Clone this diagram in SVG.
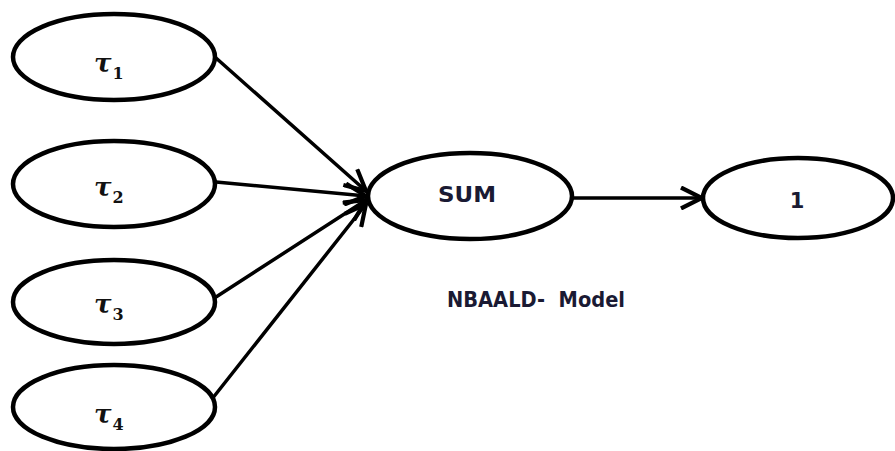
<svg xmlns="http://www.w3.org/2000/svg" width="895" height="451" viewBox="0 0 895 451">
<defs>
<style>
.n{fill:#fff;stroke:#000;stroke-width:4.5}
.c{stroke:#000;stroke-width:3.5;fill:none;stroke-linecap:round}
.tau{font-family:"DejaVu Serif","Liberation Serif",serif;font-style:italic;font-weight:bold;font-size:26px;fill:#111}
.sub{font-style:normal;font-size:16px}
.lbl{font-family:"DejaVu Sans","Liberation Sans",sans-serif;font-weight:bold;font-size:21px;fill:#1a1a33}
</style>
<marker id="ah" viewBox="0 0 14 14" refX="13" refY="7" markerWidth="7" markerHeight="7" orient="auto" markerUnits="strokeWidth">
<path d="M1,1 L13,7 L1,13" fill="none" stroke="#000" stroke-width="2.4" stroke-linejoin="miter"/>
</marker>
</defs>
<rect width="895" height="451" fill="#fff"/>
<g id="connectors">
<line class="c" x1="216" y1="58" x2="366" y2="191" marker-end="url(#ah)"/>
<line class="c" x1="216" y1="182" x2="366" y2="196" marker-end="url(#ah)"/>
<line class="c" x1="216" y1="297" x2="366" y2="200" marker-end="url(#ah)"/>
<line class="c" x1="212" y1="399" x2="366" y2="204" marker-end="url(#ah)"/>
<line class="c" x1="572" y1="198" x2="702" y2="198" marker-end="url(#ah)"/>
</g>
<g id="tau1">
<ellipse class="n" cx="114" cy="57" rx="101" ry="43"/>
<text x="94" y="72" class="tau">τ<tspan class="sub" dx="1" dy="7">1</tspan></text>
</g>
<g id="tau2">
<ellipse class="n" cx="114" cy="184" rx="101" ry="43"/>
<text x="94" y="196" class="tau">τ<tspan class="sub" dx="1" dy="7">2</tspan></text>
</g>
<g id="tau3">
<ellipse class="n" cx="114" cy="302" rx="101" ry="42"/>
<text x="94" y="313" class="tau">τ<tspan class="sub" dx="1" dy="7">3</tspan></text>
</g>
<g id="tau4">
<ellipse class="n" cx="114" cy="407" rx="101" ry="42"/>
<text x="94" y="423" class="tau">τ<tspan class="sub" dx="1" dy="7">4</tspan></text>
</g>
<g id="sum">
<ellipse class="n" cx="470" cy="196" rx="102" ry="43"/>
<text x="438" y="202" class="lbl" textLength="58" lengthAdjust="spacingAndGlyphs">SUM</text>
</g>
<g id="one">
<ellipse class="n" cx="798" cy="198" rx="95" ry="40"/>
<text x="797" y="208" class="lbl" text-anchor="middle">1</text>
</g>
<g id="caption">
<text x="447" y="307" class="lbl" textLength="178" lengthAdjust="spacingAndGlyphs" xml:space="preserve">NBAALD-  Model</text>
</g>
</svg>
